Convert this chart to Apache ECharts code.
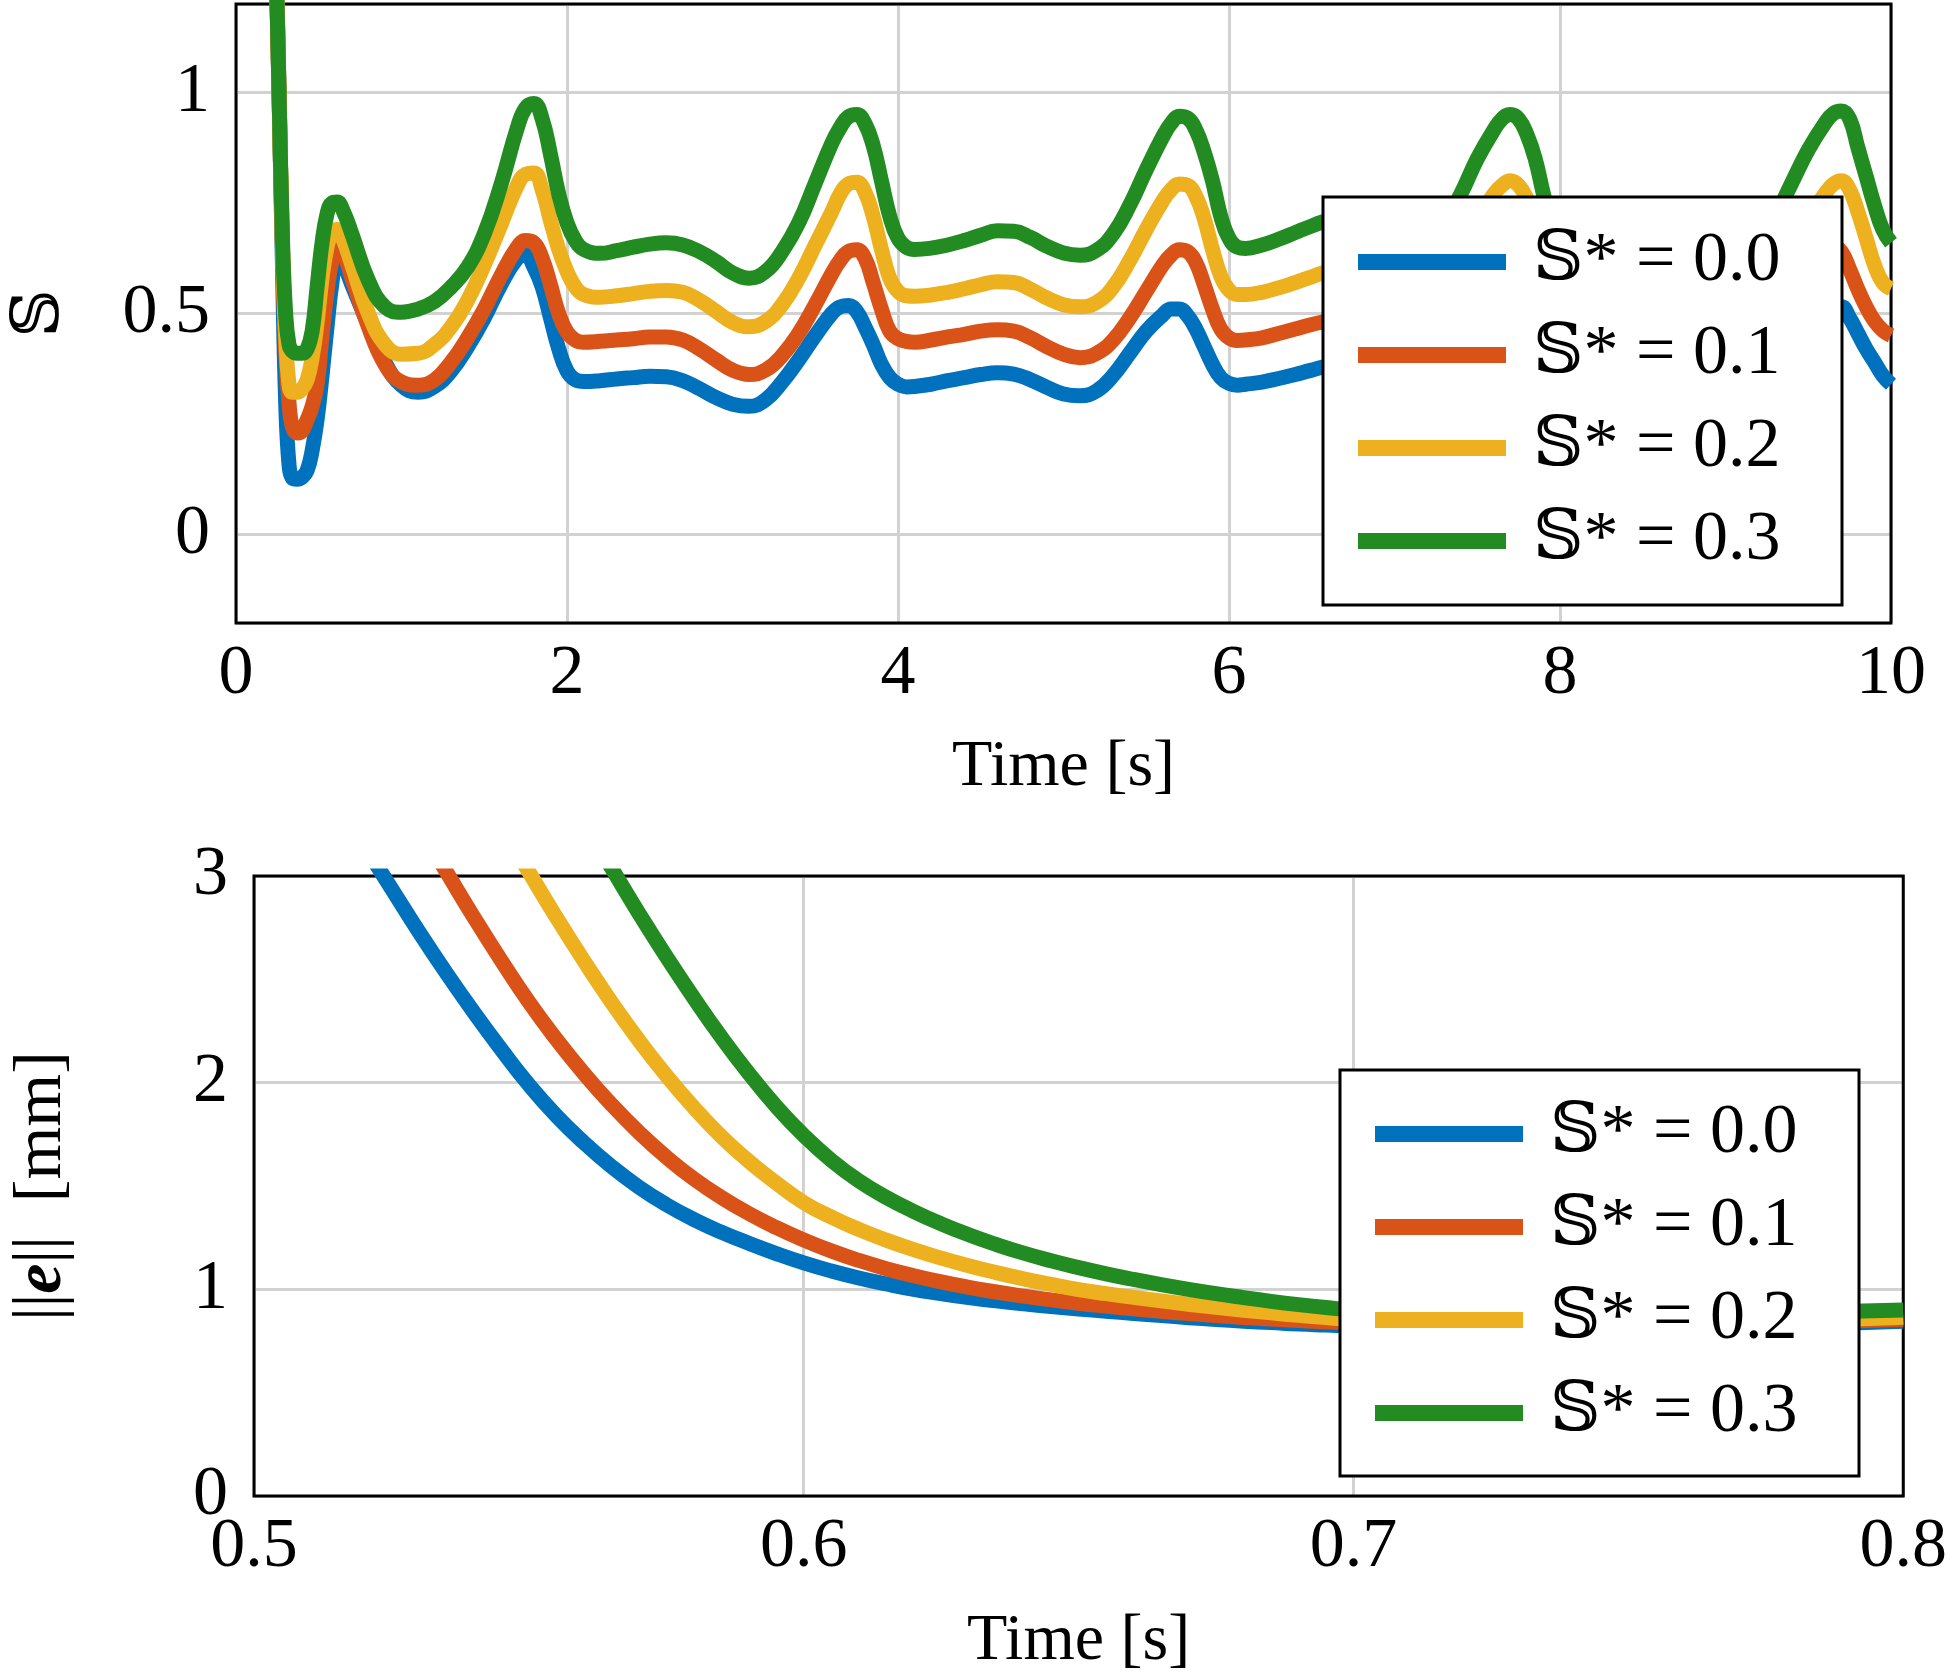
<!DOCTYPE html>
<html><head><meta charset="utf-8">
<script src="https://cdn.jsdelivr.net/npm/echarts@6/dist/echarts.min.js"></script>
<style>html,body{margin:0;padding:0;background:#fff}#c{width:1950px;height:1679px}</style>
</head><body><div id="c"></div>
<script>
// ---------- data ----------
const SERIES_NAMES = ['𝕊* = 0.0', '𝕊* = 0.1', '𝕊* = 0.2', '𝕊* = 0.3'];
const COLORS = ['#0072BD', '#D95319', '#EDB120', '#228B22'];

// top panel: time [s]
const TOP_T = [0.22,0.24,0.26,0.28,0.30,0.32,0.34,0.37,0.40,0.43,0.46,0.49,0.52,0.55,0.58,0.61,0.65,0.70,0.80,0.90,1.00,1.10,1.20,1.30,1.40,1.50,1.60,1.70,1.75,1.80,1.85,1.90,1.95,2.00,2.05,2.10,
2.2,2.3,2.4,2.5,2.6,2.7,2.8,2.9,3.0,3.1,3.2,3.3,3.4,3.5,3.6,3.65,3.7,3.75,3.8,3.85,3.9,3.95,4.0,4.05,4.1,
4.2,4.3,4.4,4.5,4.6,4.7,4.8,4.9,5.0,5.1,5.2,5.3,5.4,5.5,5.6,5.65,5.7,5.75,5.8,5.85,5.9,5.95,6.0,6.05,6.1,
6.2,6.3,6.4,6.5,6.6,6.7,6.8,6.9,7.0,7.1,7.2,7.3,7.4,7.5,7.6,7.65,7.7,7.75,7.8,7.85,7.9,7.95,8.0,8.05,8.1,
8.2,8.3,8.4,8.5,8.6,8.7,8.8,8.9,9.0,9.1,9.2,9.3,9.4,9.5,9.6,9.65,9.7,9.75,9.8,9.85,9.9,9.95,10.0];

const TOP_S00 = [1.55,1.32,1.00,0.62,0.30,0.16,0.128,0.125,0.13,0.145,0.19,0.26,0.36,0.47,0.57,0.625,0.61,0.565,0.475,0.39,0.337,0.322,0.335,0.37,0.425,0.49,0.565,0.625,0.632,0.605,0.56,0.49,0.42,0.37,0.35,0.346,
0.348,0.352,0.355,0.358,0.357,0.348,0.33,0.31,0.295,0.29,0.305,0.345,0.395,0.45,0.50,0.515,0.518,0.505,0.47,0.43,0.385,0.355,0.34,0.334,0.335,
0.34,0.348,0.355,0.362,0.366,0.363,0.35,0.333,0.318,0.314,0.325,0.36,0.41,0.46,0.497,0.51,0.51,0.495,0.465,0.425,0.385,0.355,0.342,0.338,0.34,
0.345,0.353,0.362,0.372,0.38,0.38,0.37,0.352,0.335,0.33,0.34,0.37,0.415,0.462,0.50,0.512,0.514,0.50,0.47,0.43,0.39,0.36,0.347,0.342,0.342,
0.345,0.35,0.357,0.364,0.368,0.366,0.355,0.338,0.322,0.318,0.33,0.365,0.415,0.465,0.503,0.513,0.515,0.49,0.455,0.42,0.39,0.36,0.34];

const TOP_S01 = [1.55,1.32,1.00,0.66,0.42,0.30,0.245,0.23,0.235,0.26,0.29,0.34,0.45,0.55,0.62,0.65,0.635,0.58,0.47,0.385,0.345,0.338,0.35,0.39,0.445,0.51,0.585,0.65,0.665,0.66,0.625,0.565,0.50,0.458,0.44,0.435,
0.437,0.44,0.443,0.447,0.447,0.44,0.42,0.395,0.372,0.362,0.372,0.405,0.455,0.52,0.59,0.62,0.64,0.644,0.625,0.57,0.51,0.46,0.443,0.437,0.435,
0.44,0.447,0.453,0.46,0.463,0.46,0.445,0.425,0.408,0.40,0.41,0.44,0.49,0.55,0.61,0.632,0.644,0.64,0.615,0.565,0.51,0.465,0.445,0.439,0.44,
0.445,0.455,0.465,0.475,0.482,0.48,0.468,0.45,0.432,0.425,0.435,0.465,0.51,0.565,0.615,0.635,0.645,0.64,0.615,0.565,0.51,0.465,0.447,0.44,0.44,
0.443,0.45,0.457,0.464,0.468,0.466,0.455,0.437,0.42,0.413,0.423,0.455,0.505,0.565,0.635,0.652,0.64,0.60,0.555,0.515,0.483,0.462,0.45];

const TOP_S02 = [1.55,1.32,1.00,0.66,0.45,0.34,0.322,0.322,0.33,0.35,0.40,0.48,0.58,0.65,0.685,0.69,0.665,0.61,0.50,0.43,0.408,0.41,0.43,0.47,0.53,0.61,0.70,0.79,0.815,0.818,0.78,0.71,0.645,0.595,0.56,0.543,
0.537,0.54,0.545,0.55,0.552,0.548,0.53,0.505,0.48,0.47,0.482,0.52,0.58,0.655,0.73,0.77,0.793,0.797,0.775,0.72,0.645,0.58,0.55,0.54,0.539,
0.542,0.548,0.556,0.565,0.572,0.57,0.555,0.535,0.52,0.515,0.525,0.56,0.62,0.69,0.755,0.78,0.793,0.79,0.765,0.715,0.645,0.585,0.553,0.543,0.543,
0.548,0.558,0.57,0.583,0.595,0.598,0.585,0.565,0.548,0.54,0.55,0.585,0.645,0.71,0.77,0.79,0.80,0.79,0.76,0.71,0.645,0.59,0.56,0.548,0.545,
0.548,0.555,0.563,0.572,0.58,0.58,0.57,0.553,0.54,0.535,0.548,0.59,0.65,0.715,0.77,0.792,0.80,0.78,0.73,0.67,0.61,0.57,0.556];

const TOP_S03 = [1.55,1.32,1.00,0.68,0.50,0.43,0.415,0.41,0.41,0.42,0.46,0.56,0.66,0.725,0.75,0.752,0.73,0.68,0.575,0.515,0.503,0.51,0.527,0.56,0.605,0.68,0.79,0.92,0.965,0.975,0.94,0.86,0.77,0.705,0.665,0.645,
0.636,0.642,0.65,0.657,0.66,0.655,0.64,0.618,0.592,0.58,0.595,0.64,0.705,0.795,0.885,0.92,0.945,0.95,0.93,0.88,0.80,0.72,0.67,0.65,0.645,
0.648,0.655,0.665,0.677,0.687,0.686,0.672,0.652,0.637,0.632,0.643,0.68,0.745,0.825,0.90,0.93,0.946,0.942,0.915,0.865,0.80,0.72,0.67,0.65,0.647,
0.655,0.668,0.683,0.698,0.71,0.712,0.70,0.68,0.66,0.652,0.665,0.705,0.77,0.85,0.915,0.94,0.95,0.94,0.905,0.85,0.77,0.70,0.665,0.65,0.648,
0.652,0.66,0.67,0.68,0.69,0.69,0.678,0.66,0.645,0.64,0.66,0.72,0.795,0.87,0.93,0.952,0.958,0.94,0.875,0.81,0.745,0.69,0.66];

// bottom panel: time [s]
const BOT_T = [0.52,0.525,0.53,0.535,0.54,0.545,0.55,0.555,0.56,0.565,0.57,0.575,0.58,0.585,0.59,0.595,0.6,
0.605,0.61,0.615,0.62,0.625,0.63,0.635,0.64,0.645,0.65,0.655,0.66,0.665,0.67,0.675,0.68,0.685,0.69,0.695,0.70,
0.72,0.74,0.76,0.78,0.80];
const BOT_S00 = [3.15,2.94,2.73,2.53,2.34,2.16,1.99,1.84,1.71,1.595,1.495,1.41,1.338,1.277,1.223,1.173,1.128,
1.089,1.055,1.026,1.0,0.979,0.96,0.944,0.93,0.917,0.905,0.894,0.883,0.873,0.863,0.854,0.846,0.839,0.832,0.827,0.822,
0.81,0.808,0.815,0.828,0.845];
const BOT_S01 = [null,null,3.24,3.02,2.80,2.59,2.39,2.21,2.045,1.895,1.76,1.64,1.535,1.445,1.367,1.299,1.239,
1.186,1.14,1.10,1.066,1.036,1.01,0.987,0.967,0.949,0.933,0.919,0.906,0.894,0.883,0.873,0.864,0.856,0.849,0.843,0.838,
0.826,0.821,0.826,0.838,0.855];
const BOT_S02 = [null,null,null,null,null,3.24,3.02,2.80,2.59,2.39,2.205,2.035,1.88,1.74,1.62,1.515,1.42,
1.35,1.29,1.238,1.192,1.151,1.114,1.081,1.051,1.024,0.999,0.979,0.961,0.944,0.928,0.913,0.899,0.886,0.874,0.863,0.853,
0.838,0.833,0.836,0.847,0.865];
const BOT_S03 = [null,null,null,null,null,null,null,null,3.26,3.04,2.82,2.61,2.41,2.22,2.045,1.885,1.745,
1.625,1.525,1.445,1.377,1.317,1.264,1.217,1.175,1.138,1.105,1.075,1.048,1.023,1.0,0.979,0.96,0.942,0.926,0.912,0.90,
0.88,0.873,0.877,0.887,0.90];

const TOP_VALUES = [TOP_S00, TOP_S01, TOP_S02, TOP_S03];
const BOT_VALUES = [BOT_S00, BOT_S01, BOT_S02, BOT_S03];

// ---------- chart ----------
const FONT = "'Liberation Serif', 'DejaVu Serif', serif";
const FS = 70;      // tick labels / legend
const FSN = 66;     // axis names
const pairs = (ts, vs) => ts.map((t, i) => [t, vs[i]]);

const axisLabelX = { fontSize: FS, color: '#000', fontFamily: FONT, margin: 17 };
const axisLabelY = { fontSize: FS, color: '#000', fontFamily: FONT, margin: 26 };
const splitLine = { show: true, lineStyle: { color: '#d2d2d2', width: 3 } };
const nameStyle = { fontSize: FSN, color: '#000', fontFamily: FONT };

function legendCfg(left, top, padTop, padBottom) {
  return {
    left: left, top: top, orient: 'vertical',
    data: SERIES_NAMES, icon: 'rect',
    itemWidth: 148, itemHeight: 16, itemGap: 23,
    padding: [padTop, 45, padBottom, 35],
    backgroundColor: '#fff', borderColor: '#000', borderWidth: 3, borderRadius: 0,
    selectedMode: false,
    textStyle: { fontSize: FS, color: '#000', fontFamily: FONT, lineHeight: 70, width: 264, padding: [0, 0, 0, 22] },
    z: 10
  };
}

const series = [];
for (let i = 0; i < 4; i++) {
  series.push({
    type: 'line', name: SERIES_NAMES[i], xAxisIndex: 0, yAxisIndex: 0,
    data: pairs(TOP_T, TOP_VALUES[i]),
    showSymbol: false, symbol: 'none', smooth: 0.45, clip: true,
    lineStyle: { width: 15, color: COLORS[i], join: 'round' },
    itemStyle: { color: COLORS[i] }, z: 2 + i
  });
}
for (let i = 0; i < 4; i++) {
  series.push({
    type: 'line', name: SERIES_NAMES[i], xAxisIndex: 1, yAxisIndex: 1,
    data: pairs(BOT_T, BOT_VALUES[i]),
    showSymbol: false, symbol: 'none', smooth: 0.5, clip: true,
    lineStyle: { width: 15, color: COLORS[i], join: 'round' },
    itemStyle: { color: COLORS[i] }, z: 2 + i
  });
}

const option = {
  animation: false,
  backgroundColor: '#fff',
  textStyle: { fontFamily: FONT },
  grid: [
    { left: 230, top: 4, width: 1661, height: 619, show: true, borderColor: '#000', borderWidth: 3, backgroundColor: 'rgba(0,0,0,0)', z: 1 },
    { left: 247, top: 876, width: 1661, height: 620, show: true, borderColor: '#000', borderWidth: 3, backgroundColor: 'rgba(0,0,0,0)', z: 1 }
  ],
  xAxis: [
    { gridIndex: 0, type: 'value', min: 0, max: 10, interval: 2,
      axisLine: { show: false }, axisTick: { show: false }, axisLabel: axisLabelX, splitLine: splitLine,
      name: 'Time [s]', nameLocation: 'middle', nameGap: 112, nameTextStyle: nameStyle },
    { gridIndex: 1, type: 'value', min: 0.5, max: 0.8, interval: 0.1,
      axisLine: { show: false }, axisTick: { show: false }, axisLabel: axisLabelX, splitLine: splitLine,
      name: 'Time [s]', nameLocation: 'middle', nameGap: 113, nameTextStyle: nameStyle }
  ],
  yAxis: [
    { gridIndex: 0, type: 'value', min: -0.2, max: 1.2, minInterval: 0.5, maxInterval: 0.5,
      axisLine: { show: false }, axisTick: { show: false },
      axisLabel: Object.assign({}, axisLabelY, { showMinLabel: false, showMaxLabel: false }),
      splitLine: splitLine,
      name: '𝕊', nameLocation: 'middle', nameRotate: 90, nameGap: 162, nameTextStyle: nameStyle },
    { gridIndex: 1, type: 'value', min: 0, max: 3, interval: 1,
      axisLine: { show: false }, axisTick: { show: false }, axisLabel: axisLabelY, splitLine: splitLine,
      name: '{n|||}{e|e}{n|||  [mm]}', nameLocation: 'middle', nameRotate: 90, nameGap: 178,
      nameTextStyle: { fontSize: FSN, color: '#000', fontFamily: FONT,
        rich: { n: { fontSize: FSN + 2, color: '#000', fontFamily: FONT },
                e: { fontSize: FSN + 2, color: '#000', fontFamily: FONT, fontWeight: 'bold', fontStyle: 'italic' } } } }
  ],
  legend: [ legendCfg(1323, 197, 30, 29), legendCfg(1340, 1070, 29, 28) ],
  series: series
};

const chart = echarts.init(document.getElementById('c'), null, { renderer: 'canvas' });
chart.setOption(option);
</script>
</body></html>
